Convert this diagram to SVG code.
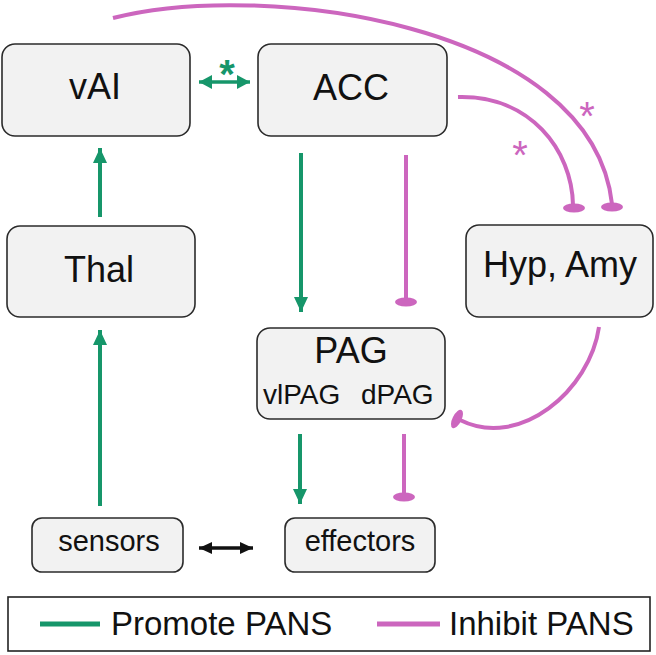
<svg xmlns="http://www.w3.org/2000/svg" width="656" height="655" viewBox="0 0 656 655">
<style>
.box{fill:#f2f2f2;stroke:#2b2b2b;stroke-width:1.6}
.lbl{font-family:"Liberation Sans",Arial,sans-serif;fill:#111;text-anchor:middle}
.g{stroke:#16966a;stroke-width:4;fill:none}
.m{stroke:#cc66be;stroke-width:4;fill:none}
.mf{fill:#cc66be}
.gf{fill:#16966a}
.star{font-family:"Liberation Sans",Arial,sans-serif;text-anchor:middle}
</style>
<defs>
<marker id="ga" markerUnits="userSpaceOnUse" markerWidth="16" markerHeight="16" viewBox="0 0 16 16" refX="15" refY="8" orient="auto"><path d="M0,1 L15,8 L0,15 Z" fill="#16966a"/></marker>
<marker id="gs" markerUnits="userSpaceOnUse" markerWidth="14" markerHeight="16" viewBox="0 0 14 16" refX="13" refY="8" orient="auto-start-reverse"><path d="M0,1 L13,8 L0,15 Z" fill="#16966a"/></marker>
<marker id="ks" markerUnits="userSpaceOnUse" markerWidth="14" markerHeight="16" viewBox="0 0 14 16" refX="13" refY="8" orient="auto-start-reverse"><path d="M0,2 L13,8 L0,14 Z" fill="#111"/></marker>
</defs>

<g id="connectors">
  <line class="g" x1="100" y1="217" x2="100" y2="148" marker-end="url(#ga)"/>
  <line class="g" x1="100" y1="506" x2="100" y2="330" marker-end="url(#ga)"/>
  <line class="g" x1="301" y1="153" x2="301" y2="312" marker-end="url(#ga)"/>
  <line class="g" x1="300" y1="434" x2="300" y2="504" marker-end="url(#ga)"/>
  <line class="g" style="stroke-width:3.5" x1="199" y1="82" x2="250" y2="82" marker-start="url(#gs)" marker-end="url(#gs)"/>
  <text class="star gf" x="227" y="88" font-size="40" font-weight="bold">*</text>
  <line x1="199" y1="548" x2="253" y2="548" stroke="#111" stroke-width="3.5" marker-start="url(#ks)" marker-end="url(#ks)"/>

  <line class="m" x1="406" y1="155" x2="406" y2="300"/>
  <ellipse class="mf" cx="406" cy="302" rx="11" ry="4.5"/>
  <line class="m" x1="404" y1="434" x2="404" y2="495"/>
  <ellipse class="mf" cx="404" cy="497" rx="11" ry="4.5"/>

  <path class="m" d="M458,97 C530,95 572,150 573,205"/>
  <ellipse class="mf" cx="574" cy="208" rx="11" ry="4.5"/>
  <text class="star mf" x="520" y="169" font-size="40">*</text>

  <path class="m" d="M113,18 C260,-20 592,22 612,204"/>
  <ellipse class="mf" cx="612" cy="207" rx="11" ry="4.5"/>
  <text class="star mf" x="587" y="130" font-size="40">*</text>

  <path class="m" d="M599,327 C590,390 520,450 460,420"/>
  <ellipse class="mf" cx="0" cy="0" rx="4.5" ry="10" transform="translate(457,419) rotate(26.6)"/>
</g>

<g id="node-vAI">
  <rect class="box" x="2" y="44" width="188" height="92" rx="13"/>
  <text class="lbl" x="95" y="99" font-size="36">vAI</text>
</g>
<g id="node-ACC">
  <rect class="box" x="258" y="44" width="189" height="92" rx="13"/>
  <text class="lbl" x="351" y="100" font-size="36">ACC</text>
</g>
<g id="node-Thal">
  <rect class="box" x="7" y="226" width="188" height="91" rx="13"/>
  <text class="lbl" x="99" y="282" font-size="36">Thal</text>
</g>
<g id="node-HypAmy">
  <rect class="box" x="466" y="225" width="187" height="92" rx="13"/>
  <text class="lbl" x="560" y="277" font-size="36">Hyp, Amy</text>
</g>
<g id="node-PAG">
  <rect class="box" x="257" y="328" width="188" height="91" rx="13"/>
  <text class="lbl" x="351" y="363" font-size="36">PAG</text>
  <text class="lbl" font-size="28" y="404" style="text-anchor:start"><tspan x="263">vlPAG</tspan><tspan x="361">dPAG</tspan></text>
</g>
<g id="node-sensors">
  <rect class="box" x="32" y="518" width="151" height="54" rx="10"/>
  <text class="lbl" x="109" y="551" font-size="29">sensors</text>
</g>
<g id="node-effectors">
  <rect class="box" x="285" y="518" width="150" height="54" rx="10"/>
  <text class="lbl" x="360" y="551" font-size="29">effectors</text>
</g>

<g id="legend">
  <rect x="8" y="597" width="642" height="54" fill="#fff" stroke="#222" stroke-width="1.6"/>
  <line x1="40" y1="624" x2="100" y2="624" stroke="#16966a" stroke-width="5"/>
  <text class="lbl" x="111" y="635" font-size="33" style="text-anchor:start">Promote PANS</text>
  <line x1="377" y1="624" x2="440" y2="624" stroke="#cc66be" stroke-width="5"/>
  <text class="lbl" x="449" y="635" font-size="33" style="text-anchor:start">Inhibit PANS</text>
</g>
</svg>
